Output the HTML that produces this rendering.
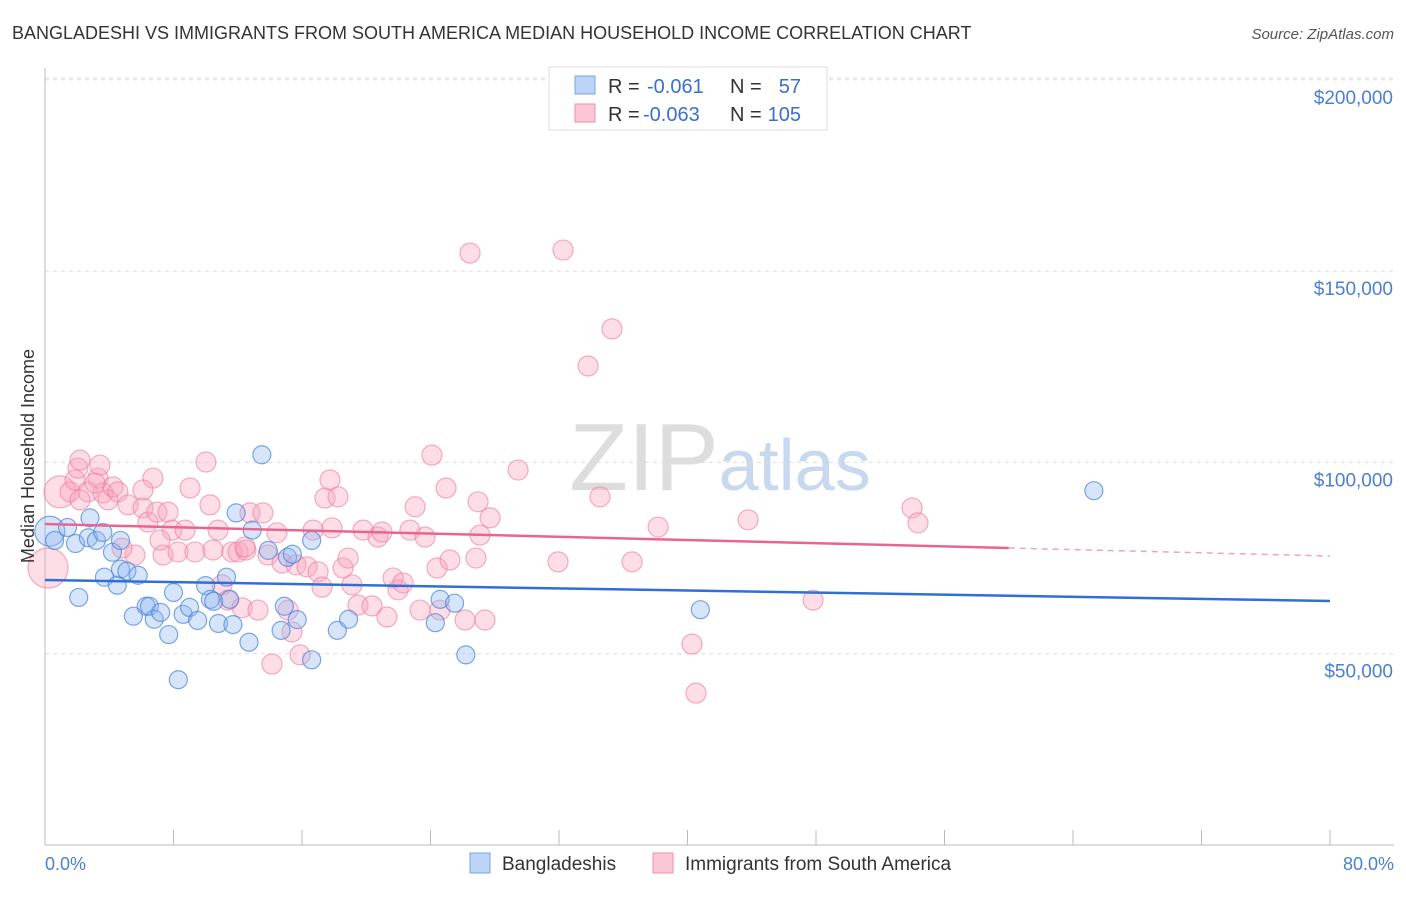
<!DOCTYPE html>
<html><head><meta charset="utf-8"><style>
body{margin:0;background:#fff;font-family:"Liberation Sans",sans-serif}
svg text{font-family:"Liberation Sans",sans-serif}
</style></head><body>
<svg id="chart" width="1406" height="892" xmlns="http://www.w3.org/2000/svg">
<text x="12" y="39" font-size="18" fill="#333">BANGLADESHI VS IMMIGRANTS FROM SOUTH AMERICA MEDIAN HOUSEHOLD INCOME CORRELATION CHART</text>
<text x="1394" y="39" font-size="15" fill="#555" text-anchor="end" font-style="italic">Source: ZipAtlas.com</text>
<text x="720" y="490" font-size="96" fill="#ddd" text-anchor="middle" font-family="Liberation Serif">ZIP<tspan fill="#c8d8ee" font-family="Liberation Sans" font-size="72">atlas</tspan></text>
<g id="grid"></g><g id="axes"></g><g id="pts"></g><g id="trend"></g>
<text transform="translate(34,456) rotate(-90)" font-size="18" fill="#333" text-anchor="middle">Median Household Income</text>
<text x="45" y="870" font-size="18" fill="#4a7fd4">0.0%</text>
<text x="1394" y="870" font-size="18" fill="#4a7fd4" text-anchor="end">80.0%</text>
<g>
<rect x="549" y="67" width="278" height="63" fill="#fff" stroke="#ddd"/>
<rect x="575" y="76" width="20" height="18" fill="#bcd4f5" stroke="#7aa5e6"/>
<rect x="575" y="104" width="20" height="18" fill="#fbc7d6" stroke="#f08fae"/>
<text x="608" y="93" font-size="20" fill="#333">R =</text>
<text x="647" y="93" font-size="20" fill="#3a6fd0">-0.061</text>
<text x="730" y="93" font-size="20" fill="#333">N =</text>
<text x="801" y="93" font-size="20" fill="#3a6fd0" text-anchor="end">57</text>
<text x="608" y="121" font-size="20" fill="#333">R =</text>
<text x="643" y="121" font-size="20" fill="#3a6fd0">-0.063</text>
<text x="730" y="121" font-size="20" fill="#333">N =</text>
<text x="801" y="121" font-size="20" fill="#3a6fd0" text-anchor="end">105</text>
</g>
<g>
<rect x="470" y="853" width="20" height="20" fill="#bcd4f5" stroke="#7aa5e6"/>
<text x="502" y="870" font-size="19" fill="#333">Bangladeshis</text>
<rect x="653" y="853" width="20" height="20" fill="#fbc7d6" stroke="#f08fae"/>
<text x="685" y="870" font-size="19" fill="#333">Immigrants from South America</text>
</g>
</svg>
<script>
const yTicks=[50000,100000,150000,200000];
const yTickLabels=["$50,000","$100,000","$150,000","$200,000"];
const bangX=[0.3,0.6,1.4,1.9,2.7,2.8,3.2,3.6,2.1,3.7,4.2,4.5,4.7,5.1,5.8,5.5,6.3,6.5,6.8,7.2,7.7,8.3,8.0,8.6,9.0,9.5,10.0,10.3,10.5,10.8,11.3,11.7,11.9,12.7,12.9,13.5,13.9,14.7,14.9,15.1,15.4,15.7,16.6,16.6,18.2,18.9,24.3,24.6,25.5,26.2,40.8,65.3,4.7,11.5];
const bangY=[82000,79600,83000,78800,80300,85500,79600,81700,64700,70000,76500,67900,72100,71600,70500,59800,62400,62400,59000,60800,55000,43200,66000,60300,62100,58700,67800,64200,63700,57900,70000,57600,86800,53000,82300,102000,77000,56100,62400,75200,76000,58900,79600,48400,56100,59000,58100,64200,63200,49700,61500,92600,79600,64200];
const saX=[0.19,0.93,1.56,1.87,2.05,2.18,2.68,3.30,3.61,3.92,4.23,4.54,3.42,2.18,3.11,5.17,5.60,6.10,6.41,6.72,6.97,7.35,7.66,7.91,8.28,8.72,9.03,9.34,10.02,10.27,10.46,10.77,11.02,11.39,11.64,12.02,12.27,12.51,12.76,13.26,13.57,13.88,14.13,14.44,14.76,15.13,15.38,15.63,15.88,16.31,16.69,17.00,17.25,17.43,17.74,17.87,18.24,18.55,18.87,19.11,19.49,19.80,20.36,20.73,20.98,21.29,21.67,21.98,22.29,22.72,23.04,23.35,23.66,24.09,24.41,24.59,24.97,25.21,26.15,26.46,26.83,26.96,27.08,27.39,27.71,29.45,31.94,32.25,34.55,35.30,33.81,36.55,38.17,40.28,40.53,43.77,47.82,53.98,54.35,6.10,4.79,7.16,12.45];
const saY=[72400,92300,92300,95400,98500,100600,92300,95900,92000,90200,93600,92300,99300,90200,94600,88900,75800,88100,84400,95900,87000,75800,87000,82300,76600,82300,93300,76600,100100,88900,77100,82300,68000,64000,76600,76600,62000,77100,86800,61400,86800,75800,47300,81600,73700,61400,55700,73200,49700,72700,82300,71400,67400,90700,95400,82900,91000,72400,75000,68000,62700,82300,62500,80500,81800,59600,69800,66700,68500,82300,88400,61400,80500,101900,72400,61400,93300,74500,58800,154700,75000,89700,81000,58800,85500,98000,74000,155500,91000,134900,125200,74000,83100,52500,39700,85000,64000,88100,84200,92800,77600,79700,77900];
const NS="http://www.w3.org/2000/svg";
const X0=45,X1=1330,Y0=845,PXPER=191.3/50000;
const xs=p=>X0+(p/80)*(X1-X0);
const ys=v=>Y0-v*PXPER;
function mk(t,a,parent){const e=document.createElementNS(NS,t);for(const k in a)e.setAttribute(k,a[k]);document.getElementById(parent).appendChild(e);return e;}
yTicks.forEach((v,i)=>{
 const l=mk('line',{x1:X0,x2:1394,y1:ys(v),y2:ys(v),stroke:'#ddd','stroke-dasharray':'4,4'},'grid');
 
 
 const t=mk('text',{x:1393,y:ys(v)+24,'font-size':19,fill:'#4a7fd4','text-anchor':'end'},'grid');
 t.textContent=yTickLabels[i];
 
 
});
const topGrid=mk('line',{x1:X0,x2:1394,y1:78,y2:78,stroke:'#ddd','stroke-dasharray':'4,4'},'grid');


const ya=mk('line',{x1:X0,x2:X0,y1:68,y2:845,stroke:'#bbb'},'axes');


const xa=mk('line',{x1:X0,x2:1394,y1:845,y2:845,stroke:'#bbb'},'axes');


for(let i=0;i<=10;i++){
 const tk=mk('line',{x1:xs(i*8),x2:xs(i*8),y1:830,y2:845,stroke:'#bbb'},'axes');
 
 
}
saX.forEach((p,i)=>{
 const r=i===0?20:(i===1?16:10);
 const c=mk('circle',{cx:xs(p),cy:ys(saY[i]),r:r,fill:'rgba(248,160,186,0.35)',stroke:'rgba(236,120,156,0.6)','stroke-width':1.2},'pts');
 
 
});
bangX.forEach((p,i)=>{
 const r=i===0?15:9;
 const c=mk('circle',{cx:xs(p),cy:ys(bangY[i]),r:r,fill:'rgba(140,180,240,0.35)',stroke:'rgba(70,130,220,0.7)','stroke-width':1.2},'pts');
 
 
});
const bl=mk('line',{x1:xs(0),y1:580,x2:xs(80),y2:601,stroke:'#2f6fd6','stroke-width':2.5},'trend');


const pl=mk('line',{x1:xs(0),y1:524,x2:xs(60),y2:548,stroke:'#e8658f','stroke-width':2.5},'trend');


const pd=mk('line',{x1:xs(60),y1:548,x2:xs(80),y2:556,stroke:'#e8658f','stroke-width':1.5,'stroke-dasharray':'6,5',opacity:0.6},'trend');


</script>
</body></html>
